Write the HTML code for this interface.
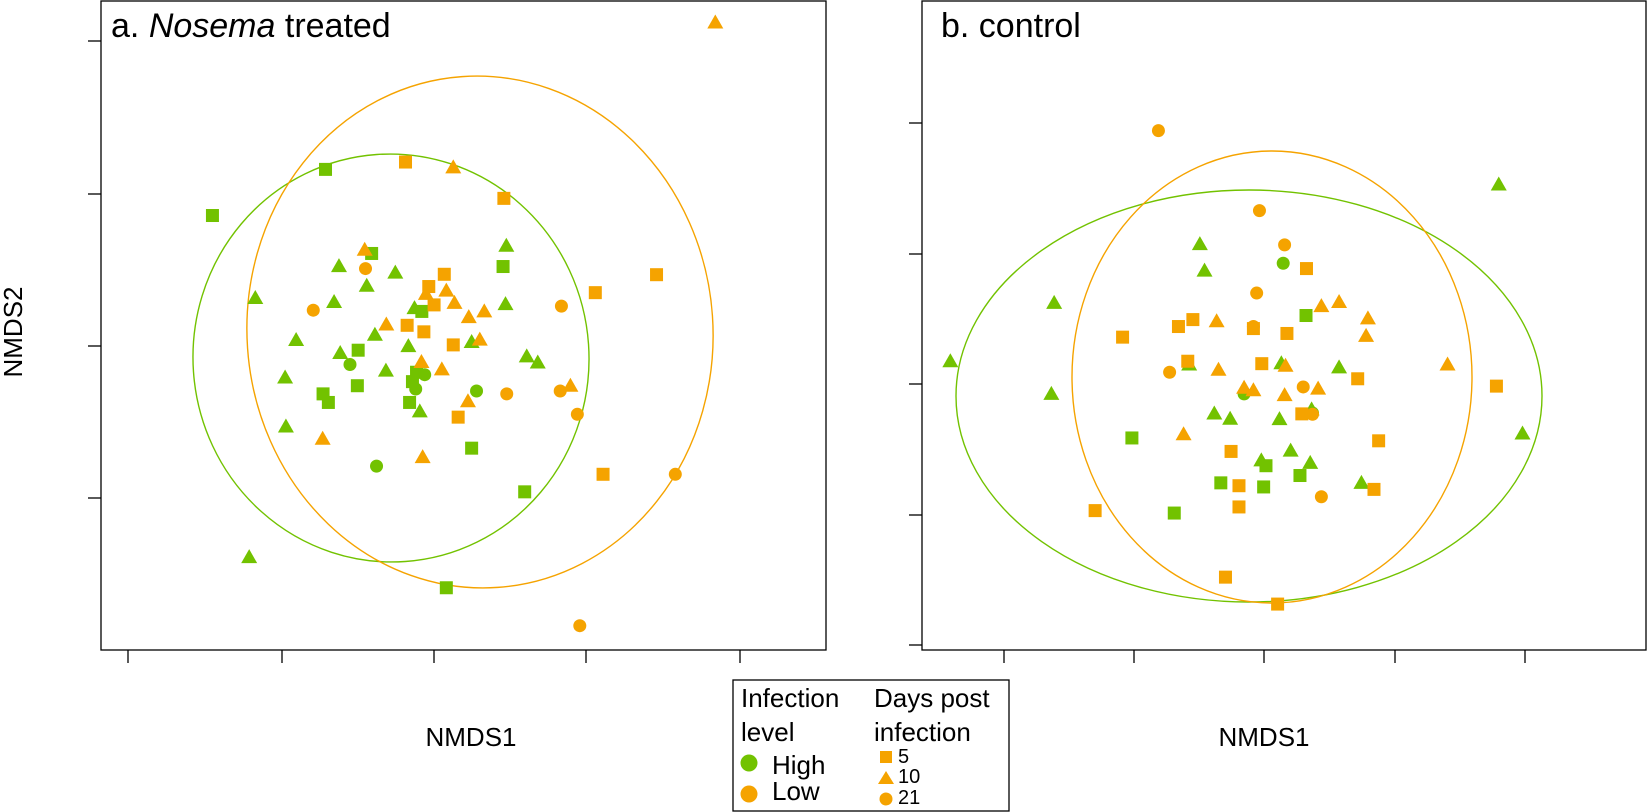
<!DOCTYPE html>
<html><head><meta charset="utf-8"><style>
html,body{margin:0;padding:0;background:#fff;}
svg{display:block;font-family:"Liberation Sans",Arial,sans-serif;}
</style></head><body>
<svg id="s" width="1648" height="812" viewBox="0 0 1648 812" xmlns="http://www.w3.org/2000/svg">
<rect width="1648" height="812" fill="#fff"/>
<rect x="101" y="1" width="725" height="649" fill="none" stroke="#000" stroke-width="1.3"/>
<rect x="922" y="1" width="724" height="649" fill="none" stroke="#000" stroke-width="1.3"/>
<g stroke="#000" stroke-width="1.3">
<line x1="88" y1="41" x2="101" y2="41"/><line x1="88" y1="194" x2="101" y2="194"/><line x1="88" y1="346" x2="101" y2="346"/><line x1="88" y1="498" x2="101" y2="498"/>
<line x1="128" y1="650" x2="128" y2="663"/><line x1="282" y1="650" x2="282" y2="663"/><line x1="434" y1="650" x2="434" y2="663"/><line x1="586" y1="650" x2="586" y2="663"/><line x1="740" y1="650" x2="740" y2="663"/>
<line x1="909" y1="123" x2="922" y2="123"/><line x1="909" y1="254" x2="922" y2="254"/><line x1="909" y1="384" x2="922" y2="384"/><line x1="909" y1="515" x2="922" y2="515"/><line x1="909" y1="645" x2="922" y2="645"/>
<line x1="1004" y1="650" x2="1004" y2="663"/><line x1="1134" y1="650" x2="1134" y2="663"/><line x1="1264" y1="650" x2="1264" y2="663"/><line x1="1395" y1="650" x2="1395" y2="663"/><line x1="1525" y1="650" x2="1525" y2="663"/>
</g>
<g fill="none" stroke-width="1.4">
<ellipse cx="391" cy="358" rx="198" ry="204" stroke="#72C200" transform="rotate(-4 391 358)"/>
<ellipse cx="480" cy="332" rx="233" ry="256" stroke="#F5A300" transform="rotate(-4 480 332)"/>
<ellipse cx="1249" cy="396" rx="293" ry="206" stroke="#72C200"/>
<ellipse cx="1272" cy="377" rx="200" ry="226" stroke="#F5A300"/>
</g>
<g id="pts"></g>
<text x="111" y="37" font-size="34">a. <tspan font-style="italic">Nosema</tspan> treated</text>
<text x="941" y="37" font-size="34">b. control</text>
<text x="471" y="746" font-size="26" text-anchor="middle">NMDS1</text>
<text x="1264" y="746" font-size="26" text-anchor="middle">NMDS1</text>
<text x="0" y="0" font-size="26" text-anchor="middle" transform="translate(22 332) rotate(-90)">NMDS2</text>
<rect x="733" y="680" width="276" height="131" fill="#fff" stroke="#000" stroke-width="1.3"/>
<g font-size="26">
<text x="741" y="707">Infection</text>
<text x="741" y="741">level</text>
<text x="772" y="774">High</text>
<text x="772" y="800">Low</text>
<text x="874" y="707">Days post</text>
<text x="874" y="741">infection</text>
</g>
<circle cx="749" cy="763" r="8.5" fill="#72C200"/>
<circle cx="749" cy="794" r="8.5" fill="#F5A300"/>
<rect x="880" y="751" width="12" height="12" fill="#F5A300"/>
<polygon points="886,771 894,784 878,784" fill="#F5A300"/>
<circle cx="886" cy="799" r="6.5" fill="#F5A300"/>
<g font-size="20"><text x="898" y="763">5</text><text x="898" y="783">10</text><text x="898" y="804">21</text></g>
</svg>
<script>
var G="#72C200",O="#F5A300";
var A={
gs:[[577,415],[300,528],[690,621],[1012,653],[657,858],[813,763],[571,965],[584,986],[655,945],[783,986],[800,912],[790,935],[935,1098],[1065,1205],[873,1440]],
gt:[[1020,602],[610,652],[748,668],[678,700],[405,730],[598,740],[1018,745],[795,755],[698,820],[505,833],[780,848],[935,838],[613,865],[1070,873],[1097,888],[478,925],[725,908],[808,1008],[480,1045],[390,1365]],
gc:[[637,893],[820,918],[798,953],[947,958],[702,1142]],
os:[[773,397],[1014,486],[868,672],[830,702],[843,747],[1238,717],[1388,673],[777,797],[818,813],[890,845],[902,1022],[1257,1162]],
ot:[[1532,55],[890,410],[673,612],[823,720],[873,712],[893,742],[928,777],[966,763],[726,795],[955,832],[812,887],[862,905],[1177,945],[926,983],[570,1075],[815,1120]],
oc:[[675,658],[547,760],[1155,750],[1021,965],[1152,958],[1194,1015],[1434,1162],[1200,1533]]};
var B={
gs:[[1001,773],[627,1073],[915,1141],[818,1183],[910,1193],[988,1165],[718,1257]],
gt:[[1415,452],[773,598],[783,663],[460,742],[237,885],[454,965],[750,893],[948,890],[1072,900],[804,1013],[838,1026],[944,1027],[1013,1003],[1466,1062],[968,1104],[905,1128],[1010,1134],[1120,1183]],
gc:[[952,645],[868,965],[1015,1012]],
os:[[1002,658],[758,783],[727,800],[607,826],[888,805],[960,817],[747,885],[906,891],[1112,928],[1410,946],[992,1014],[1157,1080],[840,1106],[857,1190],[1147,1199],[857,1242],[548,1251],[828,1414],[940,1480]],
ot:[[1072,740],[1034,750],[1134,780],[1130,823],[809,787],[813,906],[957,896],[1305,893],[868,950],[888,956],[1027,952],[955,968],[738,1064]],
oc:[[684,320],[901,516],[955,600],[895,718],[888,800],[708,912],[995,948],[1015,1015],[1034,1217]]};
var out="";
function draw(set,fx,fy){
 ["gs","gt","gc","os","ot","oc"].forEach(function(k){
  var c=k[0]=="g"?G:O;
  set[k].forEach(function(p){
   var x=fx(p[0]),y=fy(p[1]);
   if(k[1]=="s")out+='<rect x="'+(x-6.5)+'" y="'+(y-6.5)+'" width="13" height="13" fill="'+c+'"/>';
   else if(k[1]=="c")out+='<circle cx="'+x+'" cy="'+y+'" r="6.5" fill="'+c+'"/>';
   else out+='<polygon points="'+x+','+(y-8)+' '+(x+8)+','+(y+6)+' '+(x-8)+','+(y+6)+'" fill="'+c+'"/>';
  });
 });
}
draw(A,function(v){return 90+v/2.45},function(v){return v/2.45});
draw(B,function(v){return 840+v/2.148},function(v){return v/2.45});
document.getElementById("pts").innerHTML=out;
</script>
</body></html>
